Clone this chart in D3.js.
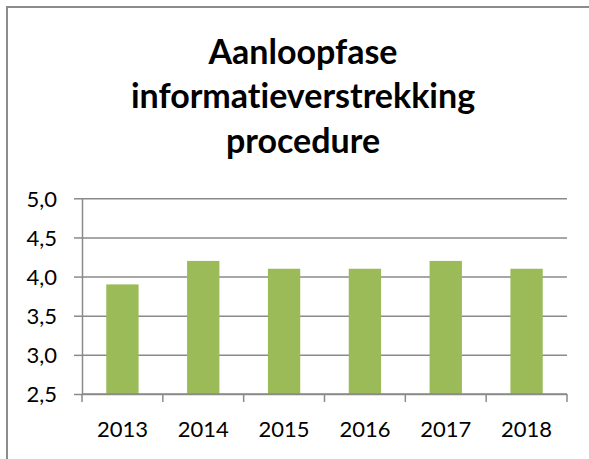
<!DOCTYPE html>
<html>
<head>
<meta charset="utf-8">
<script src="https://cdn.jsdelivr.net/npm/d3@7"></script>
<style>
  body { margin: 0; background: #fff; }
  svg { display: block; font-variant-ligatures: none; }
  .tick text { font-family: Lato, sans-serif; font-size: 22px; fill: #000; }
</style>
</head>
<body>
<script>
// Chart data
const years = ['2013', '2014', '2015', '2016', '2017', '2018'];
const scores = [3.9, 4.2, 4.1, 4.1, 4.2, 4.1];
const yTicks = [2.5, 3.0, 3.5, 4.0, 4.5, 5.0];
const titleLines = ['Aanloopfase', 'informatieverstrekking', 'procedure'];

// SVG canvas
const width = 589;
const height = 459;
const plot = { left: 82, right: 567, top: 198.3, bottom: 394 };

const nl = d3.formatLocale({ decimal: ',', thousands: '.', grouping: [3], currency: ['€', ''] });
const fmt = nl.format('.1f');

const svg = d3.select('body')
  .append('svg')
    .attr('width', width)
    .attr('height', height);

// Chart frame (only top and left edges are visible)
svg.append('path')
    .attr('d', `M7,${height + 2} V7 H${width + 2}`)
    .attr('fill', 'none')
    .attr('stroke', '#8c8c8c')
    .attr('stroke-width', 2);

// Title
svg.append('text')
    .attr('text-anchor', 'middle')
    .attr('font-family', 'Lato, sans-serif')
    .attr('font-weight', 'bold')
    .attr('font-size', 34)
    .attr('fill', '#000')
  .selectAll('tspan')
    .data(titleLines)
  .enter().append('tspan')
    .attr('x', 303)
    .attr('y', (d, i) => 63.5 + i * 44.5)
    .text((d) => d);

// Scales
const x = d3.scaleBand()
  .domain(years)
  .range([plot.left, plot.right])
  .paddingInner(0.6)
  .paddingOuter(0.3);

const y = d3.scaleLinear()
  .domain([2.5, 5.0])
  .range([plot.bottom, plot.top]);

// Gridlines
svg.append('g')
    .attr('transform', `translate(${plot.left},0)`)
    .call(d3.axisLeft(y).tickValues(yTicks).tickSize(-(plot.right - plot.left)).tickFormat(''))
    .call((g) => g.select('.domain').remove())
    .call((g) => g.selectAll('line').attr('stroke', '#8a8a8a').attr('stroke-width', 1.5));

// Y axis
svg.append('g')
    .attr('transform', `translate(${plot.left},0)`)
    .call(d3.axisLeft(y).tickValues(yTicks).tickSize(8).tickSizeOuter(0).tickPadding(17).tickFormat(fmt))
    .call((g) => g.select('.domain').attr('stroke', '#8a8a8a').attr('stroke-width', 1.5))
    .call((g) => g.selectAll('line').attr('stroke', '#8a8a8a').attr('stroke-width', 1.5))
    .call((g) => g.selectAll('text').attr('dy', '0.35em'));

// Bars
svg.selectAll('rect.bar')
    .data(years.map((d, i) => ({ year: d, value: scores[i] })))
  .enter().append('rect')
    .attr('class', 'bar')
    .attr('x', (d) => x(d.year))
    .attr('y', (d) => y(d.value))
    .attr('width', x.bandwidth())
    .attr('height', (d) => y(2.5) - y(d.value))
    .attr('fill', '#9bbb59');

// X axis: baseline, category ticks at band edges, labels
const step = x.step();
const edges = years.map((d) => x(d) - step * 0.3).concat([plot.right]);
const xAxis = svg.append('g');

xAxis.append('line')
    .attr('x1', plot.left)
    .attr('x2', plot.right)
    .attr('y1', plot.bottom)
    .attr('y2', plot.bottom)
    .attr('stroke', '#8a8a8a')
    .attr('stroke-width', 1.5);

xAxis.selectAll('line.xtick')
    .data(edges)
  .enter().append('line')
    .attr('class', 'xtick')
    .attr('x1', (d) => d)
    .attr('x2', (d) => d)
    .attr('y1', plot.bottom)
    .attr('y2', plot.bottom + 8)
    .attr('stroke', '#8a8a8a')
    .attr('stroke-width', 1.5);

xAxis.selectAll('text.xlabel')
    .data(years)
  .enter().append('text')
    .attr('class', 'xlabel')
    .attr('x', (d) => x(d) + x.bandwidth() / 2)
    .attr('y', 437)
    .attr('text-anchor', 'middle')
    .attr('font-family', 'Lato, sans-serif')
    .attr('font-size', 22)
    .attr('fill', '#000')
    .text((d) => d);
</script>
</body>
</html>
